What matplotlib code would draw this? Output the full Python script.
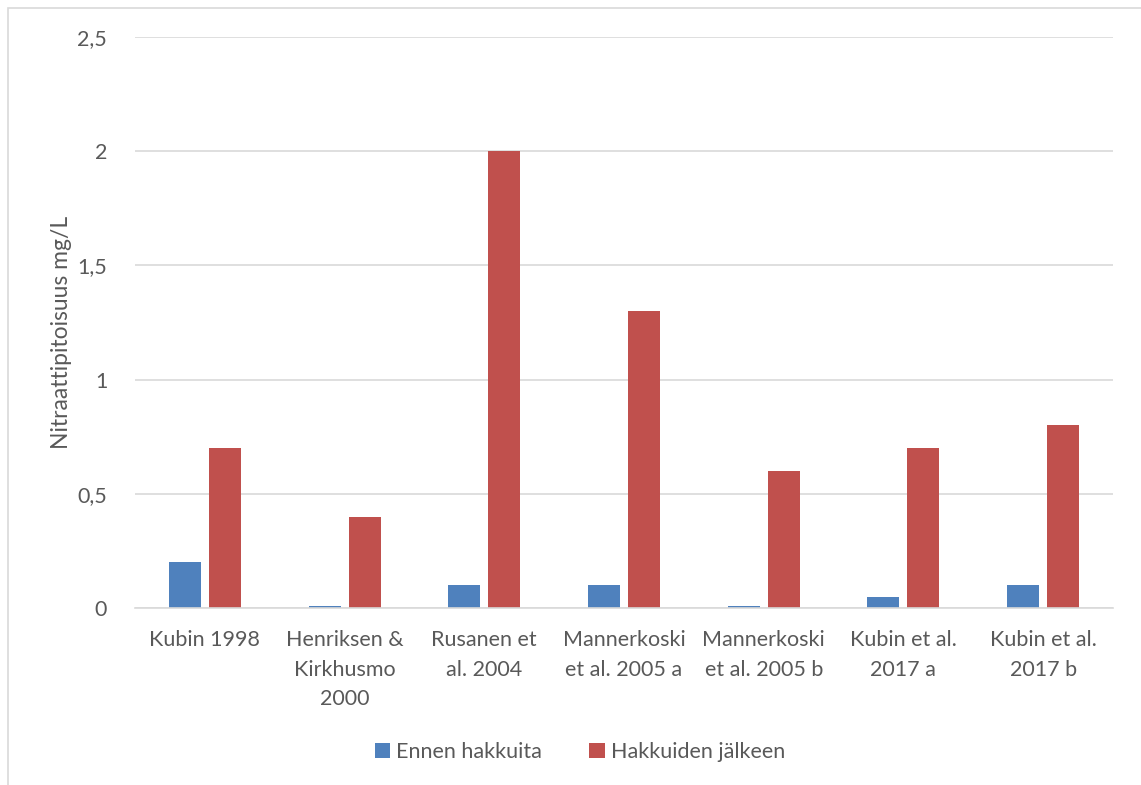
import numpy as np
import matplotlib
matplotlib.use("Agg")
import matplotlib.pyplot as plt
from matplotlib.patches import Rectangle

# Nitrate concentration before / after clear-cutting
studies = ["Kubin 1998", "Henriksen &\nKirkhusmo\n2000", "Rusanen et\nal. 2004",
           "Mannerkoski\net al. 2005 a", "Mannerkoski\net al. 2005 b",
           "Kubin et al.\n2017 a", "Kubin et al.\n2017 b"]
before = [0.2, 0.01, 0.1, 0.1, 0.01, 0.05, 0.1]
after = [0.7, 0.4, 2.0, 1.3, 0.6, 0.7, 0.8]
series_names = ["Ennen hakkuita", "Hakkuiden jälkeen"]
yticks = [0, 0.5, 1, 1.5, 2, 2.5]
ytick_labels = ["0", "0,5", "1", "1,5", "2", "2,5"]

TEXT = "#595959"
GRID = "#d9d9d9"
plt.rcParams["font.family"] = ["Lato", "DejaVu Sans"]

W, H = 1141, 785
fig = plt.figure(figsize=(W / 100, H / 100), dpi=100)
ax = fig.add_axes([135 / W, 1 - 608 / H, (1113 - 135) / W, (608 - 37) / H])

# outer chart border
fig.patches.append(Rectangle((8 / W, -0.01), 1.0, 1 - 8 / H + 0.01,
                             transform=fig.transFigure, fill=False,
                             edgecolor=GRID, linewidth=1.2))

x = np.arange(len(studies))
w = 0.229
off = 0.143
ax.bar(x - off, before, w, color="#4f81bd", label=series_names[0], zorder=3)
ax.bar(x + off, after, w, color="#c0504d", label=series_names[1], zorder=3)

ax.set_xlim(-0.5, len(studies) - 0.5)
ax.set_ylim(0, 2.5)
ax.set_yticks(yticks)
ax.set_yticklabels(ytick_labels)
ax.set_xticks(x)
ax.set_xticklabels(studies, linespacing=1.6)
ax.tick_params(axis="both", length=0, colors=TEXT, labelsize=15.5)
ax.tick_params(axis="y", pad=20)
ax.tick_params(axis="x", pad=16)
ax.yaxis.grid(True, color=GRID, linewidth=1.2, zorder=0)
for s in ["top", "right", "left"]:
    ax.spines[s].set_visible(False)
ax.spines["bottom"].set_color(GRID)
ax.spines["bottom"].set_linewidth(1.2)
ax.spines["bottom"].set_zorder(4)

ax.set_ylabel("Nitraattipitoisuus mg/L", color=TEXT, fontsize=16.5)
ax.yaxis.set_label_coords((72 - 135) / 978, (608 - 332) / 571)

ax.legend(loc="center", bbox_to_anchor=(580 / W, 1 - 752 / H),
          bbox_transform=fig.transFigure, ncol=2, frameon=False,
          fontsize=15.5, labelcolor=TEXT, handlelength=0.7, handleheight=0.7,
          handletextpad=0.3, columnspacing=2.2)

fig.savefig("out.png", dpi=100)
